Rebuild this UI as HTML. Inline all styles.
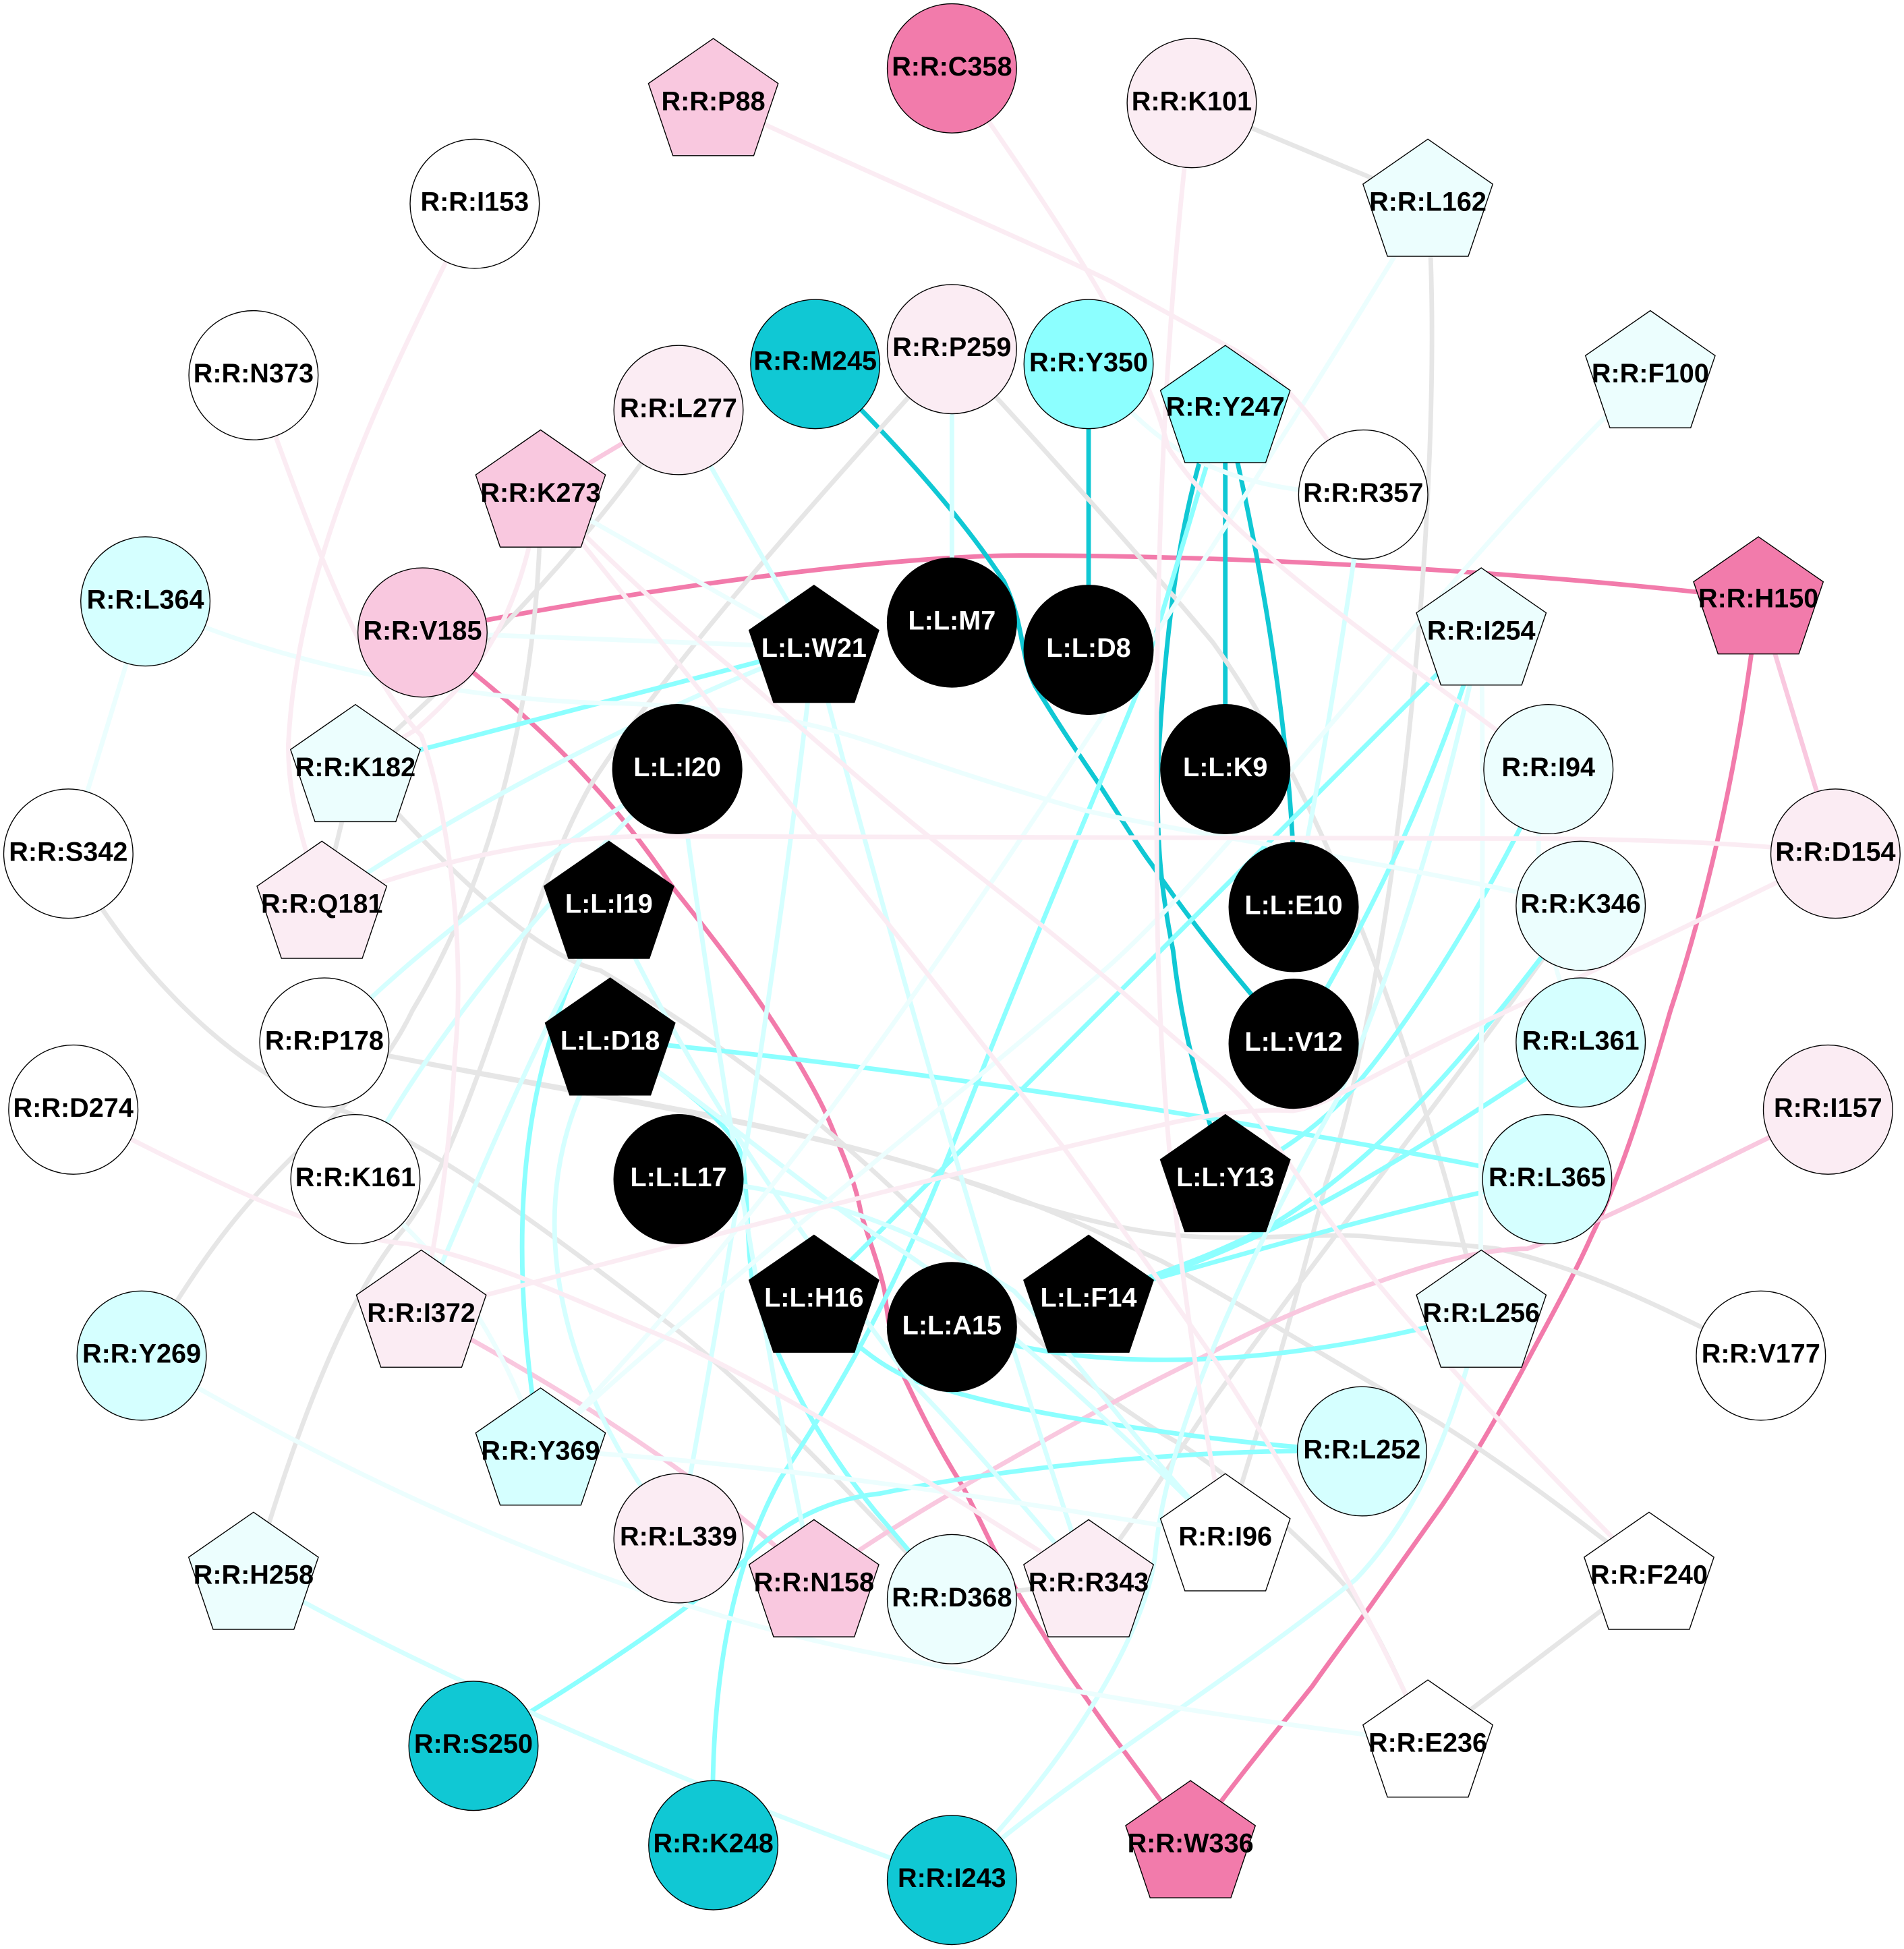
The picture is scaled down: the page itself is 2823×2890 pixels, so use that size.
<!DOCTYPE html>
<html><head><meta charset="utf-8"><style>
html,body{margin:0;padding:0;background:#fff}
svg{display:block}
text{font-family:"Liberation Sans",Arial,sans-serif;font-weight:bold;font-size:21.5px;text-anchor:middle;fill:#000}
.w text,text.w{fill:#fff}
path{fill:none;stroke-width:3.7}
circle,polygon{stroke:#000;stroke-width:.75}
</style></head><body>
<svg width="2823" height="2890" viewBox="0 0 2823 2890" xmlns="http://www.w3.org/2000/svg">
<defs><polygon id="p" points="0,-50 52.2,-13.8 32.5,44.3 -32.5,44.3 -52.2,-13.8"/></defs>
<g transform="scale(1.8425)">
<g stroke="#f27bab">
<path d="M340,509 C560,465 740,447 820,447 C1000,447 1230,460 1415,482"/>
<path d="M340,509 C440,585 495,645 542,715 C570,750 610,800 643,856 C660,885 667,900 674,919 C685,945 690,960 693,977 C700,1000 708,1020 712,1040 C715,1070 720,1090 726,1105 C740,1135 755,1165 774,1195 C790,1225 800,1250 812,1268 C820,1285 830,1300 840,1316 C850,1333 862,1350 875,1368 C900,1405 925,1435 958,1483"/>
<path d="M1415,482 C1400,610 1375,720 1344,814 C1325,880 1305,945 1281,994 C1265,1030 1245,1065 1226,1101 C1205,1140 1185,1175 1160,1212 C1140,1240 1120,1268 1101,1295 C1085,1317 1070,1337 1056,1357 C1030,1390 1000,1425 958,1483"/>
</g>
<g stroke="#10c8d4">
<path d="M656,293 C710,345 770,410 808,468 C825,505 820,525 833,552 C850,580 860,595 883,629 C900,655 915,680 927,696 C950,730 980,770 1041,840"/>
<path d="M876,293V523"/>
<path d="M986,328V619"/>
<path d="M986,328C1000,390 1040,560 1042,730"/>
<path d="M975,340C955,400 940,470 932,613C930,680 935,720 944,765C950,820 960,860 986,947"/>
</g>
<g stroke="#e6e6e6">
<path d="M959,83L1149,162"/>
<path d="M1149,162 C1165,400 1120,800 1067,952 C1050,1020 1020,1130 986,1236"/>
<path d="M766,281 C830,350 920,450 976,517 C1050,620 1110,770 1155,921 C1170,970 1180,1010 1192,1057"/>
<path d="M766,281 C640,420 530,545 474,634 C420,730 380,920 325,989 C290,1030 250,1110 204,1267"/>
<path d="M435,396 C435,550 400,700 332,813 C300,880 250,910 197,972 C160,1015 135,1060 114,1091"/>
<path d="M546,330 C500,400 420,500 286,617"/>
<path d="M286,617L259,727"/>
<path d="M286,617 C350,690 430,770 483,781 C600,850 700,930 800,1040 C830,1080 900,1135 953,1164 C1000,1195 1050,1240 1084,1278 C1105,1305 1125,1350 1149,1402"/>
<path d="M261,839 C450,880 650,900 814,964 C880,985 930,996 987,996 C1040,996 1080,992 1108,996 C1150,1000 1180,1002 1205,1005 C1290,1025 1350,1060 1417,1091"/>
<path d="M261,839 C450,880 620,900 760,945 C830,965 880,990 935,1015 C1000,1050 1080,1100 1143,1136 C1200,1170 1260,1215 1327,1267"/>
<path d="M55,687 C100,770 180,860 273,893 C340,915 440,990 543,1069 C620,1130 700,1220 766,1287"/>
<path d="M766,1287L876,1273"/>
<path d="M1272,729 C1180,860 1060,1010 977,1126 C950,1165 920,1215 876,1273"/>
<path d="M1327,1267L1149,1402"/>
</g>
<g stroke="#f9c8df">
<path d="M435,396L546,330"/>
<path d="M1415,482L1477,687"/>
<path d="M1471,893 C1400,925 1300,980 1229,1005 C1205,1005 1170,1010 1108,1032 C1050,1050 1000,1075 970,1091 C900,1125 860,1148 814,1174 C750,1210 700,1240 655,1273"/>
<path d="M339,1056C430,1105 560,1180 655,1273"/>
</g>
<g stroke="#8cffff">
<path d="M655,521L286,617"/>
<path d="M986,328 C965,390 945,465 916,555 C890,620 830,760 766,923 C720,1040 680,1110 628,1190 C590,1260 570,1350 574,1485"/>
<path d="M1192,507L655,1044"/>
<path d="M1192,507Q1140,680 1041,840"/>
<path d="M1246,619C1210,700 1140,820 1081,885C1050,915 1020,935 986,947"/>
<path d="M1272,729C1210,810 1130,920 1028,983C980,1010 920,1030 876,1044"/>
<path d="M1272,839C1180,900 1080,965 1000,1000C950,1022 920,1032 876,1044"/>
<path d="M1245,949C1130,970 1000,1010 876,1044"/>
<path d="M491,837C700,855 1000,900 1245,949"/>
<path d="M766,1068C850,1100 1000,1110 1192,1057"/>
<path d="M381,1405 C450,1365 550,1300 600,1255 C640,1215 680,1205 708,1202 C800,1183 950,1165 1096,1168"/>
<path d="M655,1044 C680,1080 720,1110 756,1117 C800,1130 840,1138 888,1145 C950,1155 1030,1165 1096,1168"/>
<path d="M490,727C430,830 400,960 435,1167"/>
<path d="M491,837 C530,862 580,895 595,925 C603,950 600,1000 606,1034 C620,1082 650,1150 705,1217 C725,1240 745,1265 766,1287"/>
</g>
<g stroke="#d5ffff">
<path d="M766,281V501"/>
<path d="M546,330L655,521"/>
<path d="M655,521C635,700 600,950 546,1238"/>
<path d="M655,521C700,700 800,1050 876,1273"/>
<path d="M259,727C340,670 500,580 655,521"/>
<path d="M261,839C340,760 420,700 546,619"/>
<path d="M286,949C320,880 400,760 546,619"/>
<path d="M339,1056C380,960 420,860 490,727"/>
<path d="M546,619C570,800 610,1060 655,1273"/>
<path d="M490,727C560,880 650,1000 735,1114C780,1160 830,1220 876,1273"/>
<path d="M491,837C420,940 430,1090 546,1238"/>
<path d="M491,837C540,865 640,950 705,994C770,1030 880,1130 986,1236"/>
<path d="M546,949C650,955 740,990 816,1039C860,1085 920,1170 986,1236"/>
<path d="M1097,398C1080,520 1060,640 1041,730"/>
<path d="M766,1513C860,1430 980,1360 1091,1271C1130,1230 1165,1170 1192,1057"/>
<path d="M766,1513C860,1420 925,1310 930,1247C940,1150 1000,1020 1077,883C1130,760 1170,620 1192,507"/>
<path d="M204,1267C350,1350 560,1440 766,1513"/>
</g>
<g stroke="#ecfefe">
<path d="M117,484L55,687"/>
<path d="M117,484C230,540 400,566 500,566C600,570 650,580 706,599C780,625 830,640 872,652C950,670 1100,690 1272,729"/>
<path d="M340,509L655,521"/>
<path d="M435,396L655,521"/>
<path d="M1192,507C1195,700 1190,900 1192,1057"/>
<path d="M876,293C920,345 960,395 1097,398"/>
<path d="M1149,162C1030,360 830,670 700,850C620,960 530,1070 435,1167"/>
<path d="M1328,300C1180,440 1000,680 894,776C800,860 520,1080 435,1167"/>
<path d="M114,1091C300,1200 500,1290 700,1330C850,1360 1000,1385 1149,1402"/>
<path d="M435,1167C600,1175 800,1205 986,1236"/>
<path d="M286,949C340,1000 390,1040 435,1167"/>
<path d="M1246,619C1225,700 1250,780 1272,839"/>
</g>
<g stroke="#fbecf3">
<path d="M766,55C860,190 920,280 940,360C990,440 1130,530 1246,619"/>
<path d="M574,81C700,140 830,195 895,227C930,247 960,263 985,277C1020,295 1050,320 1097,398"/>
<path d="M959,83C935,280 929,480 931,700C931,830 940,1000 986,1236"/>
<path d="M382,164C320,290 240,440 232,599C232,640 240,665 259,727"/>
<path d="M204,302C250,430 290,540 339,592C360,650 375,760 366,850C362,930 352,990 339,1056"/>
<path d="M435,396C420,480 400,530 335,587L286,617"/>
<path d="M435,396C480,440 530,490 593,541C650,590 700,635 746,672C800,715 860,760 921,814C960,850 990,870 1008,894C1040,940 1070,985 1108,1032C1160,1095 1230,1170 1327,1267"/>
<path d="M435,396C520,500 590,590 656,672C690,710 790,840 857,925C900,985 940,1040 980,1098C1020,1160 1090,1270 1149,1402"/>
<path d="M259,727C330,700 420,674 520,673L1250,675C1350,676 1420,680 1477,687"/>
<path d="M339,1056C550,1000 780,940 932,906C970,897 1010,892 1040,894C1070,890 1090,870 1212,814C1290,778 1400,725 1477,687"/>
<path d="M59,893C160,945 260,996 328,1001C400,1015 470,1050 542,1079C640,1125 760,1200 876,1273"/>
</g>
<g>
<circle cx="766" cy="55" r="52" fill="#f27bab"/><text x="766" y="60.7">R:R:C358</text>
<circle cx="959" cy="83" r="52" fill="#fbecf3"/><text x="959" y="88.7">R:R:K101</text>
<use href="#p" x="574" y="81" fill="#f9c8df"/><text x="574" y="88.7">R:R:P88</text>
<use href="#p" x="1149" y="162" fill="#ecfefe"/><text x="1149" y="169.7">R:R:L162</text>
<circle cx="382" cy="164" r="52" fill="#fff"/><text x="382" y="169.7">R:R:I153</text>
<circle cx="204" cy="302" r="52" fill="#fff"/><text x="204" y="307.7">R:R:N373</text>
<use href="#p" x="1328" y="300" fill="#ecfefe"/><text x="1328" y="307.7">R:R:F100</text>
<circle cx="656" cy="293" r="52" fill="#10c8d4"/><text x="656" y="297.7">R:R:M245</text>
<circle cx="766" cy="281" r="52" fill="#fbecf3"/><text x="766" y="286.7">R:R:P259</text>
<circle cx="876" cy="293" r="52" fill="#8cffff"/><text x="876" y="298.7">R:R:Y350</text>
<use href="#p" x="986" y="328" fill="#8cffff"/><text x="986" y="334.7">R:R:Y247</text>
<circle cx="546" cy="330" r="52" fill="#fbecf3"/><text x="546" y="335.7">R:R:L277</text>
<use href="#p" x="435" y="396" fill="#f9c8df"/><text x="435" y="403.7">R:R:K273</text>
<circle cx="1097" cy="398" r="52" fill="#fff"/><text x="1097" y="403.7">R:R:R357</text>
<circle cx="117" cy="484" r="52" fill="#d5ffff"/><text x="117" y="489.7">R:R:L364</text>
<circle cx="340" cy="509" r="52" fill="#f9c8df"/><text x="340" y="514.7">R:R:V185</text>
<use href="#p" x="1415" y="482" fill="#f27bab"/><text x="1415" y="488.7">R:R:H150</text>
<use href="#p" x="1192" y="507" fill="#ecfefe"/><text x="1192" y="514.7">R:R:I254</text>
<use href="#p" x="286" y="617" fill="#ecfefe"/><text x="286" y="624.7">R:R:K182</text>
<circle cx="1246" cy="619" r="52" fill="#ecfefe"/><text x="1246" y="624.7">R:R:I94</text>
<circle cx="55" cy="687" r="52" fill="#fff"/><text x="55" y="692.7">R:R:S342</text>
<circle cx="1477" cy="687" r="52" fill="#fbecf3"/><text x="1477" y="692.7">R:R:D154</text>
<use href="#p" x="259" y="727" fill="#fbecf3"/><text x="259" y="734.7">R:R:Q181</text>
<circle cx="1272" cy="729" r="52" fill="#ecfefe"/><text x="1272" y="734.7">R:R:K346</text>
<circle cx="261" cy="839" r="52" fill="#fff"/><text x="261" y="844.7">R:R:P178</text>
<circle cx="1272" cy="839" r="52" fill="#d5ffff"/><text x="1272" y="844.7">R:R:L361</text>
<circle cx="59" cy="893" r="52" fill="#fff"/><text x="59" y="898.7">R:R:D274</text>
<circle cx="1471" cy="893" r="52" fill="#fbecf3"/><text x="1471" y="898.7">R:R:I157</text>
<circle cx="286" cy="949" r="52" fill="#fff"/><text x="286" y="954.7">R:R:K161</text>
<circle cx="1245" cy="949" r="52" fill="#d5ffff"/><text x="1245" y="954.7">R:R:L365</text>
<use href="#p" x="339" y="1056" fill="#fbecf3"/><text x="339" y="1063.7">R:R:I372</text>
<use href="#p" x="1192" y="1056" fill="#ecfefe"/><text x="1192" y="1063.7">R:R:L256</text>
<circle cx="114" cy="1091" r="52" fill="#d5ffff"/><text x="114" y="1096.7">R:R:Y269</text>
<circle cx="1417" cy="1091" r="52" fill="#fff"/><text x="1417" y="1096.7">R:R:V177</text>
<use href="#p" x="435" y="1167" fill="#d5ffff"/><text x="435" y="1174.7">R:R:Y369</text>
<circle cx="1096" cy="1168" r="52" fill="#d5ffff"/><text x="1096" y="1173.7">R:R:L252</text>
<circle cx="546" cy="1238" r="52" fill="#fbecf3"/><text x="546" y="1243.7">R:R:L339</text>
<use href="#p" x="986" y="1236" fill="#fff"/><text x="986" y="1243.7">R:R:I96</text>
<use href="#p" x="655" y="1273" fill="#f9c8df"/><text x="655" y="1280.7">R:R:N158</text>
<circle cx="766" cy="1287" r="52" fill="#ecfefe"/><text x="766" y="1292.7">R:R:D368</text>
<use href="#p" x="876" y="1273" fill="#fbecf3"/><text x="876" y="1280.7">R:R:R343</text>
<use href="#p" x="204" y="1267" fill="#ecfefe"/><text x="204" y="1274.7">R:R:H258</text>
<use href="#p" x="1327" y="1267" fill="#fff"/><text x="1327" y="1274.7">R:R:F240</text>
<circle cx="381" cy="1405" r="52" fill="#10c8d4"/><text x="381" y="1410.7">R:R:S250</text>
<use href="#p" x="1149" y="1402" fill="#fff"/><text x="1149" y="1409.7">R:R:E236</text>
<circle cx="574" cy="1485" r="52" fill="#10c8d4"/><text x="574" y="1490.7">R:R:K248</text>
<circle cx="766" cy="1513" r="52" fill="#10c8d4"/><text x="766" y="1518.7">R:R:I243</text>
<use href="#p" x="958" y="1483" fill="#f27bab"/><text x="958" y="1490.7">R:R:W336</text>
</g>
<g class="w">
<use href="#p" x="655" y="521" fill="#000"/><text x="655" y="528.7">L:L:W21</text>
<circle cx="766" cy="501" r="52" fill="#000"/><text x="766" y="506.7">L:L:M7</text>
<circle cx="876" cy="523" r="52" fill="#000"/><text x="876" y="528.7">L:L:D8</text>
<circle cx="545" cy="619" r="52" fill="#000"/><text x="545" y="624.7">L:L:I20</text>
<circle cx="986" cy="619" r="52" fill="#000"/><text x="986" y="624.7">L:L:K9</text>
<use href="#p" x="490" y="727" fill="#000"/><text x="490" y="734.7">L:L:I19</text>
<circle cx="1041" cy="730" r="52" fill="#000"/><text x="1041" y="735.7">L:L:E10</text>
<use href="#p" x="491" y="837" fill="#000"/><text x="491" y="844.7">L:L:D18</text>
<circle cx="1041" cy="840" r="52" fill="#000"/><text x="1041" y="845.7">L:L:V12</text>
<circle cx="546" cy="949" r="52" fill="#000"/><text x="546" y="954.7">L:L:L17</text>
<use href="#p" x="986" y="947" fill="#000"/><text x="986" y="954.7">L:L:Y13</text>
<use href="#p" x="655" y="1044" fill="#000"/><text x="655" y="1051.7">L:L:H16</text>
<use href="#p" x="876" y="1044" fill="#000"/><text x="876" y="1051.7">L:L:F14</text>
<circle cx="766" cy="1068" r="52" fill="#000"/><text x="766" y="1073.7">L:L:A15</text>
</g>
</g>
</svg>
</body></html>
